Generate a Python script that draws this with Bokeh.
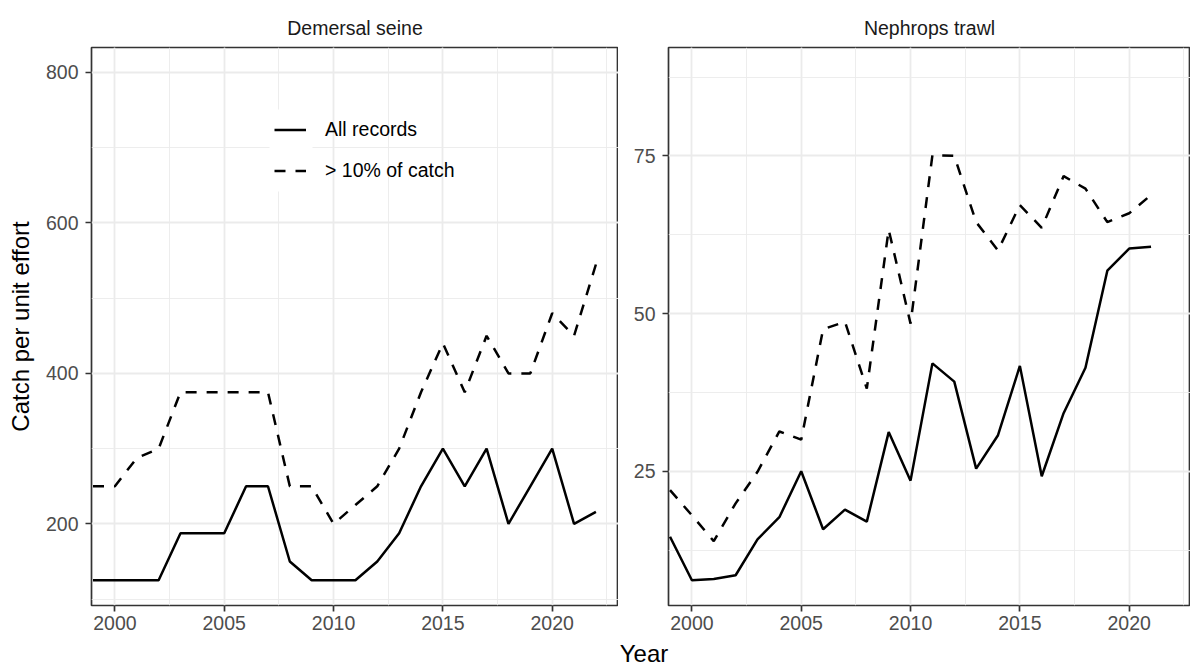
from bokeh.plotting import figure
from bokeh.models import (Range1d, SingleIntervalTicker, Legend, LegendItem,
                          Label, BoxAnnotation)
from bokeh.layouts import row, column
from bokeh.embed import file_html
from bokeh.resources import INLINE

FONT = "Liberation Sans"

# ---------------- data ----------------
years_seine = list(range(1999, 2023))
seine_all = [125, 125, 125, 125, 187.5, 187.5, 187.5, 250, 250, 150, 125, 125,
             125, 150, 187.5, 250, 300, 250, 300, 200, 250, 300, 200, 216]
seine_10 = [250, 250, 287.5, 300, 375, 375, 375, 375, 375, 250, 250, 200,
            225, 250, 300, 375, 440, 375, 450, 400, 400, 480, 450, 545]

years_neph = list(range(1999, 2022))
neph_all = [14.6, 7.7, 7.9, 8.5, 14.2, 17.7, 25.0, 15.8, 18.9, 17.0, 31.2, 23.5,
            42.1, 39.2, 25.4, 30.7, 41.7, 24.2, 34.2, 41.4, 56.8, 60.3, 60.6]
neph_10 = [22.0, 18.0, 13.9, 19.9, 24.9, 31.3, 30.0, 47.5, 48.7, 38.1, 63.3, 48.4,
           75.1, 75.0, 64.5, 60.0, 67.2, 63.6, 71.8, 69.8, 64.5, 65.9, 68.8]

panel_titles = ["Demersal seine", "Nephrops trawl"]
series_labels = ["All records", "> 10% of catch"]
x_title = "Year"
y_title = "Catch per unit effort"

# ---------------- layout constants ----------------
PX_PER_YEAR = 21.865
X0 = 1998.93
FRAME_TOP = 47
FRAME_H = 558
ROW_H = 639
LINE_W = 2.5
DASH = "11 10"
GRID = "#EBEBEB"
BORDER = "#333333"


def make_panel(title, years, v_all, v_ten, y_lo, y_hi, y_int, frame_w, b_left, b_right):
    p = figure(width=b_left + frame_w + b_right, height=ROW_H,
               min_border_left=b_left, min_border_right=b_right,
               min_border_top=FRAME_TOP, min_border_bottom=ROW_H - FRAME_TOP - FRAME_H,
               x_range=Range1d(X0, X0 + frame_w / PX_PER_YEAR),
               y_range=Range1d(y_lo, y_hi),
               output_backend="svg", toolbar_location=None, title=title)
    p.title.align = "center"
    p.title.text_font = FONT
    p.title.text_font_size = "19.5px"
    p.title.text_font_style = "normal"
    p.title.text_color = "#1A1A1A"
    p.title.standoff = 17

    p.outline_line_color = BORDER
    p.outline_line_width = 1.7
    p.background_fill_color = "white"
    p.border_fill_color = "white"

    p.xaxis.ticker = SingleIntervalTicker(interval=5, num_minor_ticks=2)
    p.yaxis.ticker = SingleIntervalTicker(interval=y_int, num_minor_ticks=2)
    for ax in (p.xaxis, p.yaxis):
        ax.axis_line_color = None
        ax.major_tick_line_color = BORDER
        ax.major_tick_line_width = 1.7
        ax.major_tick_out = 6
        ax.major_tick_in = 0
        ax.minor_tick_out = 0
        ax.minor_tick_in = 0
        ax.major_label_text_font = FONT
        ax.major_label_text_font_size = "19.5px"
        ax.major_label_text_color = "#4D4D4D"
    # no per-panel x title: keep the axis compact so the row height stays fixed
    p.xaxis.axis_label = None
    p.xaxis.axis_label_standoff = 0
    p.xaxis.axis_label_text_font_size = "0px"
    p.xaxis.major_label_standoff = 4
    p.yaxis.major_label_standoff = 7

    for g in (p.xgrid, p.ygrid):
        g.grid_line_color = GRID
        g.grid_line_width = 1.8
        g.minor_grid_line_color = GRID
        g.minor_grid_line_width = 0.9

    r_all = p.line(years, v_all, line_color="black", line_width=LINE_W)
    r_ten = p.line(years, v_ten, line_color="black", line_width=LINE_W,
                   line_dash=DASH)
    return p, r_all, r_ten


Y1 = (91.5, 833.2)
Y2 = (3.70, 92.19)
p1, r1a, r1t = make_panel(panel_titles[0], years_seine, seine_all, seine_10,
                          Y1[0], Y1[1], 200, 527, 91, 0)
p2, r2a, r2t = make_panel(panel_titles[1], years_neph, neph_all, neph_10,
                          Y2[0], Y2[1], 25, 522, 50, 0)

p1.yaxis.axis_label = y_title
p1.yaxis.axis_label_text_font = FONT
p1.yaxis.axis_label_text_font_size = "24px"
p1.yaxis.axis_label_text_font_style = "normal"
p1.yaxis.axis_label_text_color = "black"
p1.yaxis.axis_label_standoff = 9


# pixel -> data helpers for the legend-key background decoration
def px_to_x(px, frame_left):
    return X0 + (px - frame_left) / PX_PER_YEAR


def py_to_y(py, lo, hi):
    return hi - (py - FRAME_TOP) * (hi - lo) / FRAME_H


key_bg = BoxAnnotation(left=px_to_x(269, 91), right=px_to_x(312, 91),
                       top=py_to_y(109, *Y1), bottom=py_to_y(191, *Y1),
                       fill_color="white", fill_alpha=1.0, line_color=None)
p1.add_layout(key_bg)

legend = Legend(items=[LegendItem(label=series_labels[0], renderers=[r1a]),
                       LegendItem(label=series_labels[1], renderers=[r1t])],
                location=(183, 414), orientation="vertical",
                glyph_width=32, glyph_height=41, label_height=41,
                label_standoff=19, spacing=0, padding=0, margin=0,
                border_line_color=None, background_fill_alpha=0.0,
                label_text_font=FONT, label_text_font_size="19.5px",
                label_text_color="black")
p1.add_layout(legend, "center")

# shared x-axis title strip below both panels (frame = whole strip, 1 unit = 1 px)
STRIP_H = 666 - ROW_H
p3 = figure(width=1190, height=STRIP_H, x_range=Range1d(0, 1190),
            y_range=Range1d(0, STRIP_H), min_border=0, output_backend="svg",
            toolbar_location=None, x_axis_location=None, y_axis_location=None,
            title=None)
p3.outline_line_color = None
p3.grid.visible = False
p3.add_layout(Label(x=643.5, y=STRIP_H / 2, text=x_title, text_align="center",
                    text_baseline="middle", text_font=FONT,
                    text_font_size="24px", text_color="black"))

layout = column(row(p1, p2), p3)
open("out.html", "w").write(file_html(layout, INLINE))
